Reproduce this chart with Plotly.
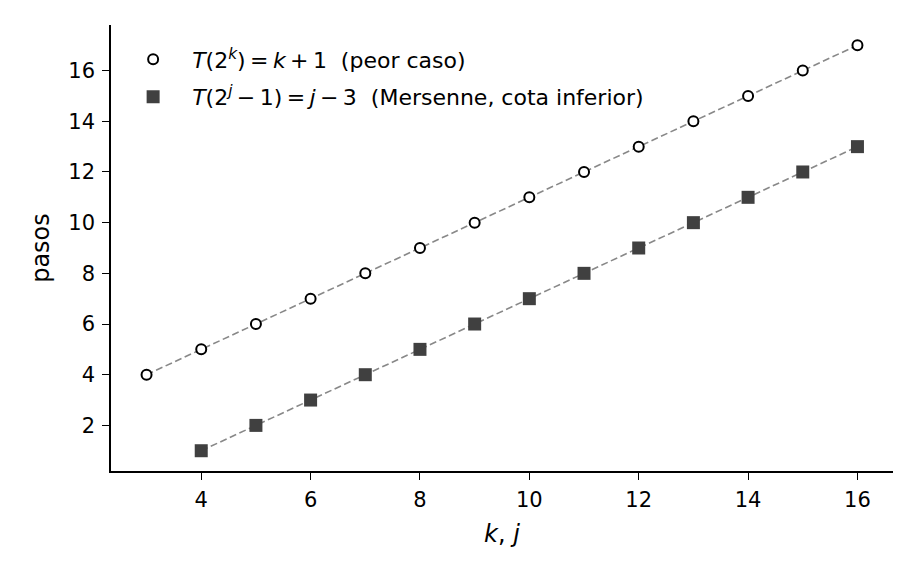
import plotly.graph_objects as go

k_vals = list(range(3, 17))
t_peor = [4, 5, 6, 7, 8, 9, 10, 11, 12, 13, 14, 15, 16, 17]
j_vals = list(range(4, 17))
t_mers = [1, 2, 3, 4, 5, 6, 7, 8, 9, 10, 11, 12, 13]

x_ticks = [4, 6, 8, 10, 12, 14, 16]
y_ticks = [2, 4, 6, 8, 10, 12, 14, 16]

FONT = "DejaVu Sans"
TS = "\u2009"
fig = go.Figure()
fig.add_trace(go.Scatter(x=k_vals, y=t_peor, mode="lines", showlegend=False,
                         line=dict(color="#888888", width=1.6, dash="7px,3.5px"), hoverinfo="skip"))
fig.add_trace(go.Scatter(x=j_vals, y=t_mers, mode="lines", showlegend=False,
                         line=dict(color="#888888", width=1.6, dash="7px,3.5px"), hoverinfo="skip"))
fig.add_trace(go.Scatter(x=k_vals, y=t_peor, mode="markers", legendgroup="a",
                         name=f"<i>T</i>(2<sup><i>k</i></sup>){TS}={TS}<i>k</i>{TS}+{TS}1&nbsp;&nbsp;(peor caso)",
                         marker=dict(symbol="circle", size=10, color="white",
                                     line=dict(color="black", width=2))))
fig.add_trace(go.Scatter(x=j_vals, y=t_mers, mode="markers", legendgroup="b",
                         name=f"<i>T</i>(2<sup><i>j</i></sup>{TS}−{TS}1){TS}={TS}<i>j</i>{TS}−{TS}3&nbsp;&nbsp;(Mersenne, cota inferior)",
                         marker=dict(symbol="square", size=13, color="#404040",
                                     line=dict(width=0))))

axis_common = dict(showgrid=False, zeroline=False, showline=True, linecolor="black", linewidth=1.6,
                   ticks="outside", ticklen=7, tickwidth=1.4, tickcolor="black",
                   tickfont=dict(family=FONT, size=21, color="black"))
fig.update_xaxes(range=[2.35, 16.65], tickvals=x_ticks, ticklabelstandoff=2,
                 title=dict(text="<i>k</i>, <i>j</i>", font=dict(family=FONT, size=24, color="black"), standoff=14),
                 **axis_common)
fig.update_yaxes(range=[0.2, 17.8], tickvals=y_ticks, ticklabelstandoff=3,
                 title=dict(text="pasos", font=dict(family=FONT, size=24, color="black"), standoff=12),
                 **axis_common)
fig.update_layout(
    width=920, height=580,
    margin=dict(l=111, r=27, t=25, b=109),
    plot_bgcolor="white", paper_bgcolor="white",
    font=dict(family=FONT, size=21, color="black"),
    legend=dict(x=0.004, y=0.97, xanchor="left", yanchor="top", bgcolor="rgba(255,255,255,0)",
                font=dict(family=FONT, size=22, color="black"), itemwidth=68, tracegroupgap=6),
)
fig.write_html("out.html")
